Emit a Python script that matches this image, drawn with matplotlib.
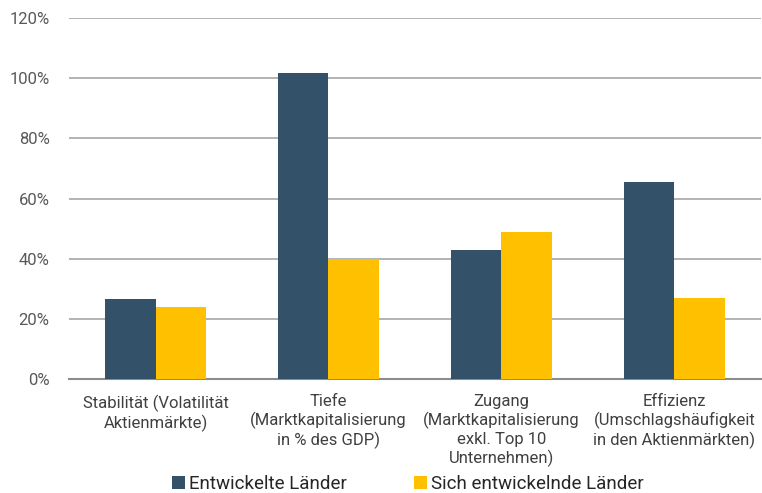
import numpy as np
import matplotlib.pyplot as plt

plt.rcParams['font.family'] = ['Roboto', 'DejaVu Sans']

categories = ['Stabilität (Volatilität\nAktienmärkte)',
              'Tiefe\n(Marktkapitalisierung\nin % des GDP)',
              'Zugang\n(Marktkapitalisierung\nexkl. Top 10\nUnternehmen)',
              'Effizienz\n(Umschlagshäufigkeit\nin den Aktienmärkten)']
entwickelt = [26.6, 101.7, 42.9, 65.4]
entwickelnd = [24.0, 40.0, 48.9, 27.0]
series_names = ['Entwickelte Länder', 'Sich entwickelnde Länder']

fig = plt.figure(figsize=(7.62, 4.93), dpi=100)
ax = fig.add_axes([0.0906, 0.2312, 0.908, 0.7323])

x = np.arange(len(categories))
w = 0.29
ax.bar(x - w / 2, entwickelt, w, color='#33526a', label=series_names[0], zorder=3)
ax.bar(x + w / 2, entwickelnd, w, color='#ffc000', label=series_names[1], zorder=3)

ax.set_xlim(-0.5, len(categories) - 0.5)
ax.set_ylim(0, 120)
ax.set_yticks(np.arange(0, 121, 20))
ax.set_yticklabels(['%d%%' % v for v in range(0, 121, 20)])
ax.yaxis.grid(True, color='#a6a6a6', linewidth=1.2, zorder=0)
ax.set_xticks(x)
ax.set_xticklabels(categories, fontsize=12, color='#404040', linespacing=1.2)
ax.tick_params(axis='y', labelsize=12, labelcolor='#595959', length=0, pad=14)
ax.tick_params(axis='x', length=0, pad=11)
for s in ['top', 'right', 'left']:
    ax.spines[s].set_visible(False)
ax.spines['bottom'].set_color('#8c8c8c')
ax.spines['bottom'].set_linewidth(1.5)

fig.legend(loc='center', bbox_to_anchor=(0.535, 0.018), ncol=2, frameon=False,
           fontsize=13.5, handlelength=0.7, handleheight=0.7, handletextpad=0.2,
           columnspacing=3.6, labelcolor='#262626')

fig.savefig('out.png', dpi=100)
